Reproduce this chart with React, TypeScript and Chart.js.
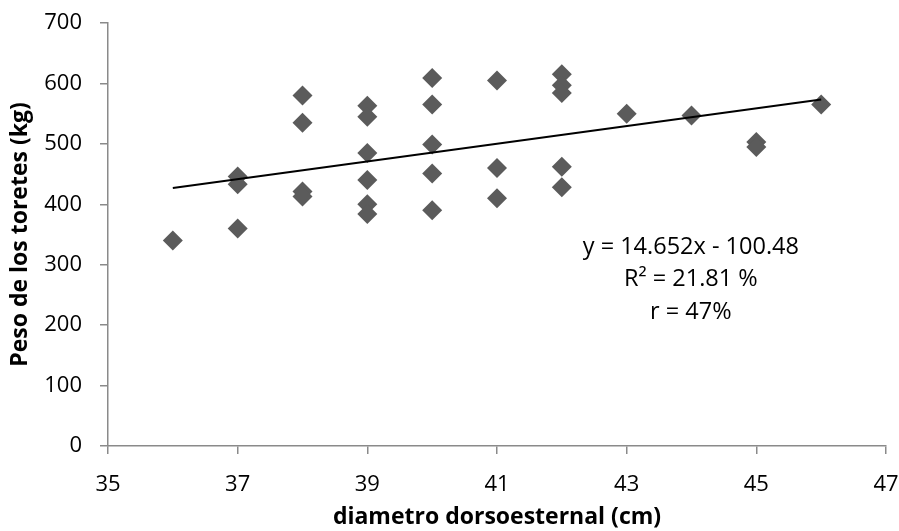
import React, { useEffect, useRef } from "react";
import { Chart, registerables } from "chart.js";

Chart.register(...registerables);

// Data
const X_VALUES = [36, 37, 37, 37, 38, 38, 38, 38, 39, 39, 39, 39, 39, 39, 40, 40, 40, 40, 40, 41, 41, 41, 42, 42, 42, 42, 42, 43, 44, 45, 45, 46];
const Y_VALUES = [340, 446, 433, 360, 580, 535, 421, 413, 563, 545, 485, 440, 400, 384, 609, 565, 499, 451, 390, 605, 460, 410, 615, 597, 584, 462, 428, 550, 547, 503, 495, 565];

const TREND_SLOPE = 14.652;
const TREND_INTERCEPT = -100.48;
const TREND_X = [36, 46];

const ANNOTATION_LINES = ["y = 14.652x - 100.48", "R\u00B2 = 21.81 %", "r = 47%"];

const X_TITLE = "diametro dorsoesternal (cm)";
const Y_TITLE = "Peso de los toretes (kg)";

const FONT = "'Open Sans', 'Noto Sans', sans-serif";
const AXIS_COLOR = "#8a8a8a";
const MARKER_COLOR = "#5b5b5b";

export default function App() {
  const canvasRef = useRef<HTMLCanvasElement | null>(null);

  useEffect(() => {
    const canvas = canvasRef.current;
    if (!canvas) return;

    const scatter = X_VALUES.map((x, i) => ({ x, y: Y_VALUES[i] }));
    const trend = TREND_X.map((x) => ({ x, y: TREND_SLOPE * x + TREND_INTERCEPT }));

    const annotationPlugin = {
      id: "annotationText",
      afterDraw(chart: any) {
        const { ctx, scales } = chart;
        const xs = scales.x;
        const ys = scales.y;
        const cx = xs.getPixelForValue(43.99);
        const ys0 = ys.getPixelForValue(329);
        ctx.save();
        ctx.fillStyle = "#000";
        ctx.font = `23.5px ${FONT}`;
        ctx.textAlign = "center";
        ctx.textBaseline = "middle";
        ANNOTATION_LINES.forEach((line, i) => {
          ctx.fillText(line, cx, ys0 + i * 32.5);
        });
        ctx.restore();
      },
    };

    const chart = new Chart(canvas, {
      type: "scatter",
      data: {
        datasets: [
          {
            type: "scatter",
            data: scatter,
            pointStyle: "rectRot",
            pointRadius: 10,
            pointHoverRadius: 10,
            backgroundColor: MARKER_COLOR,
            borderColor: MARKER_COLOR,
            borderWidth: 0,
            order: 1,
          },
          {
            type: "line",
            data: trend,
            borderColor: "#000",
            borderWidth: 2,
            pointRadius: 0,
            fill: false,
            showLine: true,
            order: 0,
          } as any,
        ],
      },
      options: {
        animation: false,
        responsive: false,
        maintainAspectRatio: false,
        layout: { padding: { left: 0, right: 13, top: 23, bottom: 0 } },
        plugins: {
          legend: { display: false },
          tooltip: { enabled: false },
        },
        scales: {
          x: {
            type: "linear",
            min: 35,
            max: 47,
            ticks: { stepSize: 2, color: "#000", font: { family: FONT, size: 22 }, padding: 18 },
            grid: { drawOnChartArea: false, drawTicks: true, tickLength: 8, color: AXIS_COLOR, lineWidth: 1.5 },
            border: { color: AXIS_COLOR, width: 1.5 },
            title: {
              display: true,
              text: X_TITLE,
              color: "#000",
              font: { family: FONT, size: 23, weight: "bold" },
              padding: { top: 4, bottom: 0 },
            },
            afterFit(scale: any) {
              scale.height = 85;
              scale.paddingLeft = 0;
              scale.paddingRight = 0;
            },
          },
          y: {
            type: "linear",
            min: 0,
            max: 700,
            ticks: { stepSize: 100, color: "#000", font: { family: FONT, size: 22 }, padding: 18 },
            grid: { drawOnChartArea: false, drawTicks: true, tickLength: 8, color: AXIS_COLOR, lineWidth: 1.5 },
            border: { color: AXIS_COLOR, width: 1.5 },
            title: {
              display: true,
              text: Y_TITLE,
              color: "#000",
              font: { family: FONT, size: 23, weight: "bold" },
              padding: { top: 7, bottom: 0 },
            },
            afterFit(scale: any) {
              scale.width = 108;
              scale.paddingTop = 0;
              scale.paddingBottom = 0;
            },
          },
        },
      },
      plugins: [annotationPlugin],
    } as any);

    return () => chart.destroy();
  }, []);

  return (
    <div style={{ position: "fixed", left: 0, top: 0, width: 899, height: 531, background: "#fff" }}>
      <canvas ref={canvasRef} width={899} height={531} style={{ width: 899, height: 531, display: "block" }} />
    </div>
  );
}
